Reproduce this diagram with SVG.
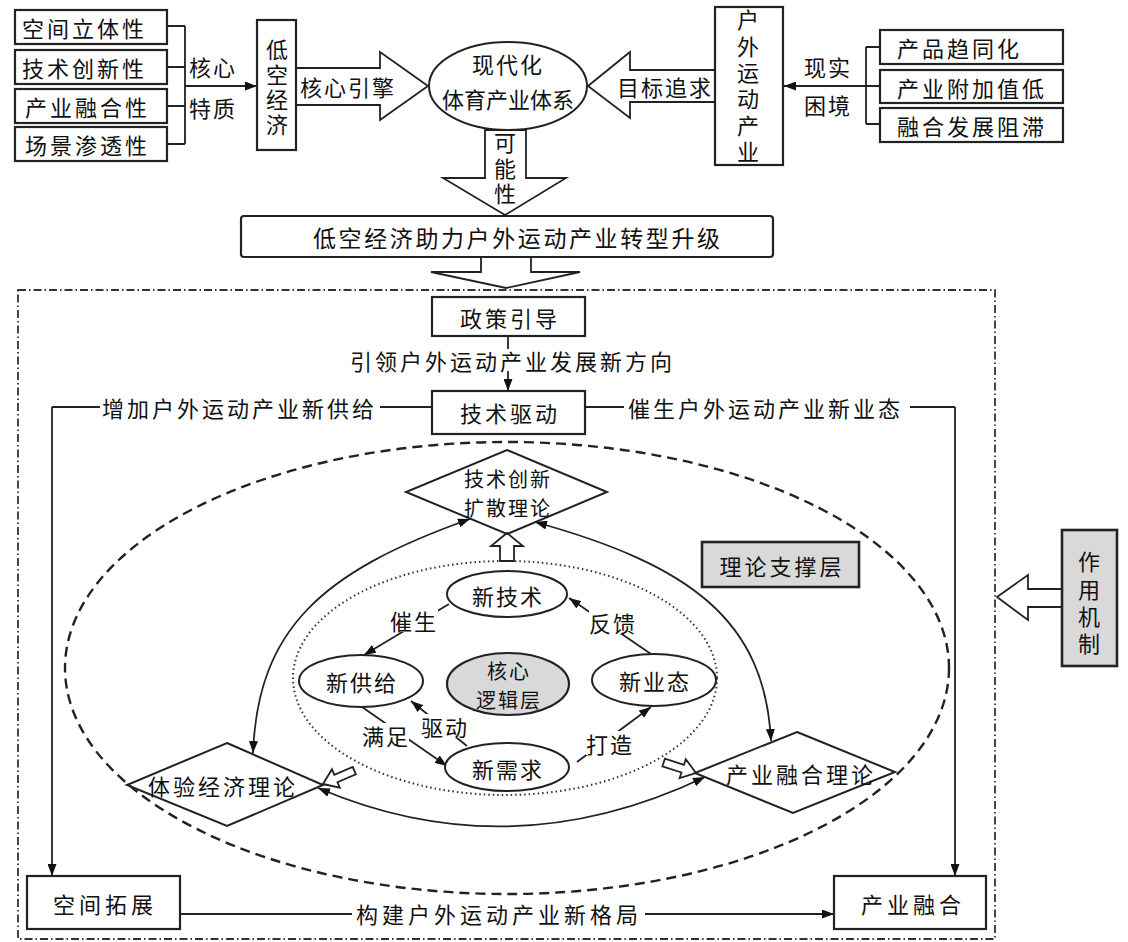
<svg xmlns="http://www.w3.org/2000/svg" width="1128" height="942" viewBox="0 0 1128 942">
<style>
text{font-family:"Noto Sans CJK SC","Noto Sans CJK JP",sans-serif;font-size:22px;fill:#111;dominant-baseline:central}
.c{text-anchor:middle}
.v{writing-mode:vertical-rl;text-orientation:upright;text-anchor:middle}
.l2{letter-spacing:2px}
.l3{letter-spacing:3px}
.l4{letter-spacing:4px}
.box{fill:#fff;stroke:#222;stroke-width:2.2}
.gray{fill:#d9d9d9;stroke:#222;stroke-width:2.6}
.ln{fill:none;stroke:#222;stroke-width:1.8}
.hol{fill:#fff;stroke:#222;stroke-width:1.8;stroke-linejoin:miter}
.ell{fill:#fff;stroke:#222;stroke-width:2}
.bg{fill:#fff;stroke:none}
</style>
<defs>
<marker id="ah" viewBox="0 0 12 9" refX="12" refY="4.5" markerWidth="12" markerHeight="9" markerUnits="userSpaceOnUse" orient="auto-start-reverse">
<path d="M0,0 L12,4.5 L0,9 z" fill="#111"/>
</marker>
</defs>
<rect width="1128" height="942" fill="#fff"/>

<!-- background frames -->
<g id="frames">
<rect x="18" y="290" width="977" height="649" fill="none" stroke="#333" stroke-width="1.8" stroke-dasharray="8 3 1.5 3"/>
<ellipse cx="507" cy="668" rx="442" ry="226" fill="none" stroke="#222" stroke-width="2.4" stroke-dasharray="10 6"/>
<ellipse cx="505" cy="678" rx="212" ry="117" fill="none" stroke="#333" stroke-width="2" stroke-dasharray="1.5 3"/>
</g>

<!-- connectors -->
<g id="connectors">
<path class="ln" d="M167,26 H185 M167,67 H185 M167,106 H185 M167,144 H185 M185,26 V144"/>
<path class="ln" d="M185,86 H257" marker-end="url(#ah)"/>
<path class="ln" d="M1063,47 H866 M880,124 H866 M866,47 V124"/>
<path class="ln" d="M880,86 H784" marker-end="url(#ah)"/>
<path class="ln" d="M508,336 V349"/>
<path class="ln" d="M508,371 V391" marker-end="url(#ah)"/>
<path class="ln" d="M432,407 H380 M100,407 H52"/>
<path class="ln" d="M52,407 V876" marker-end="url(#ah)"/>
<path class="ln" d="M585,407 H624 M910,407 H955"/>
<path class="ln" d="M955,407 V876" marker-end="url(#ah)"/>
<path class="ln" d="M180,914 H352"/>
<path class="ln" d="M645,914 H834" marker-end="url(#ah)"/>
<path class="ln" d="M470,519 C320,572 258,630 253,753" marker-start="url(#ah)" marker-end="url(#ah)"/>
<path class="ln" d="M535,522 C690,565 765,620 771,741" marker-start="url(#ah)" marker-end="url(#ah)"/>
<path class="ln" d="M318,788 Q510,870 705,777" marker-start="url(#ah)" marker-end="url(#ah)"/>
<path class="ln" d="M449,604 L364,655" marker-end="url(#ah)"/>
<path class="ln" d="M651,654 L569,598" marker-end="url(#ah)"/>
<path class="ln" d="M467,746 L411,701" marker-end="url(#ah)"/>
<path class="ln" d="M362,707 L447,766" marker-end="url(#ah)"/>
<path class="ln" d="M577,762 L651,707" marker-end="url(#ah)"/>
<polygon class="hol" points="296,68 380,68 380,52 428,86 380,120 380,105 296,105"/>
<text x="300" y="86" class="l2">核心引擎</text>
<polygon class="hol" points="588,86 630,52 630,70 715,70 715,102 630,102 630,118"/>
<text x="617" y="86" class="l2">目标追求</text>
<polygon class="hol" points="485,130 526,130 526,178 566,178 505,215 443,178 485,178"/>
<text x="505" y="170" class="v" style="letter-spacing:3.5px">可能性</text>
<polygon class="hol" points="481,257 531,257 531,272 580,272 506,288 431,272 481,272"/>
<polygon class="hol" points="507,533 523,546 514,546 514,561 500,561 500,546 491,546"/>
<polygon class="hol" points="0,0 -14,-10 -14,-4 -34,-4 -34,4 -14,4 -14,10" transform="translate(323,784) rotate(157)"/>
<polygon class="hol" points="0,0 -14,-10 -14,-4 -34,-4 -34,4 -14,4 -14,10" transform="translate(696,773) rotate(18)"/>
<polygon class="hol" points="997,597 1028,575 1028,589 1062,589 1062,607 1028,607 1028,620"/>
<text x="213" y="66" class="c l2">核心</text>
<text x="213" y="107" class="c l2">特质</text>
<text x="828" y="66" class="c l2">现实</text>
<text x="828" y="104" class="c l2">困境</text>
<text x="350" y="360" class="l3">引领户外运动产业发展新方向</text>
<text x="102" y="407" class="l3">增加户外运动产业新供给</text>
<text x="628" y="407" class="l3">催生户外运动产业新业态</text>
<text x="356" y="913" class="l4">构建户外运动产业新格局</text>
<rect class="bg" x="390" y="608" width="48" height="24"/>
<text x="414" y="620" class="c l2">催生</text>
<rect class="bg" x="589" y="610" width="48" height="24"/>
<text x="613" y="622" class="c l2">反馈</text>
<rect class="bg" x="421" y="714" width="48" height="24"/>
<text x="445" y="726" class="c l2">驱动</text>
<rect class="bg" x="363" y="723" width="46" height="24"/>
<text x="386" y="735" class="c l2">满足</text>
<rect class="bg" x="586" y="731" width="48" height="24"/>
<text x="610" y="743" class="c l2">打造</text>
</g>

<!-- nodes -->
<g id="n-kongjian"><rect class="box" x="15" y="10" width="152" height="34"/><text x="22" y="27" class="l3">空间立体性</text></g>
<g id="n-jishu"><rect class="box" x="15" y="50" width="152" height="34"/><text x="22" y="67" class="l3">技术创新性</text></g>
<g id="n-chanye"><rect class="box" x="15" y="89" width="152" height="34"/><text x="25" y="106" class="l3">产业融合性</text></g>
<g id="n-changjing"><rect class="box" x="15" y="127" width="152" height="34"/><text x="25" y="144" class="l3">场景渗透性</text></g>
<g id="n-dikong"><rect class="box" x="257" y="20" width="39" height="130"/>
<text x="277" y="88.5" class="v" style="letter-spacing:3px">低空经济</text></g>
<g id="n-xiandaihua"><ellipse class="ell" cx="508" cy="86" rx="79" ry="44"/>
<text x="508" y="63" class="c l2">现代化</text><text x="508" y="98" class="c">体育产业体系</text></g>
<g id="n-huwai"><rect class="box" x="715" y="7" width="68" height="158"/>
<text x="748" y="88" class="v" style="letter-spacing:4.4px">户外运动产业</text></g>
<g id="n-tongzhi"><rect class="box" x="880" y="30" width="183" height="34"/><text x="897" y="47" class="l3">产品趋同化</text></g>
<g id="n-fujia"><rect class="box" x="880" y="70" width="183" height="33"/><text x="897" y="87" class="l3">产业附加值低</text></g>
<g id="n-ronghe"><rect class="box" x="880" y="108" width="183" height="34"/><text x="897" y="125" class="l3">融合发展阻滞</text></g>
<g id="n-banner"><rect class="box" x="241" y="216" width="532" height="41" rx="3"/>
<text x="313" y="237" style="font-size:23px;letter-spacing:2.6px">低空经济助力户外运动产业转型升级</text></g>
<g id="n-zhengce"><rect class="box" x="432" y="297" width="153" height="39"/><text x="510" y="317" class="c l3">政策引导</text></g>
<g id="n-jishuqudong"><rect class="box" x="432" y="391" width="153" height="43"/><text x="510" y="412" class="c l3">技术驱动</text></g>
<g id="n-kongjiantuozhan"><rect class="box" x="27" y="876" width="153" height="53"/><text x="105" y="903" class="c l4">空间拓展</text></g>
<g id="n-chanyeronghe"><rect class="box" x="834" y="876" width="152" height="53"/><text x="913" y="903" class="c l4">产业融合</text></g>
<g id="n-lilun"><rect class="gray" x="702" y="542" width="157" height="45"/><text x="782" y="565" class="c l3">理论支撑层</text></g>
<g id="n-zuoyong"><rect class="gray" x="1062" y="530" width="55" height="136"/>
<text x="1089" y="605.5" class="v" style="letter-spacing:5.3px">作用机制</text></g>
<g id="n-kuosan"><polygon class="ell" points="507,450 607,492 507,534 406,492" style="fill:none"/>
<text class="c l2" style="font-size:20px"><tspan x="508" y="478">技术创新</tspan><tspan x="508" y="507">扩散理论</tspan></text></g>
<g id="n-tiyan"><polygon class="ell" points="227,743 323,785 227,826 127,785" style="fill:none"/>
<text x="223" y="785" class="c l3">体验经济理论</text></g>
<g id="n-ronghelilun"><polygon class="ell" points="797,732 895,772 793,813 695,773" style="fill:none"/>
<text x="801" y="773" class="c l3">产业融合理论</text></g>
<g id="n-xinjishu"><ellipse class="ell" cx="507" cy="594" rx="60" ry="23"/><text x="508" y="595" class="c l2">新技术</text></g>
<g id="n-xingongji"><ellipse class="ell" cx="361" cy="681" rx="62" ry="26"/><text x="362" y="681" class="c l2">新供给</text></g>
<g id="n-hexin"><ellipse class="gray" cx="508" cy="684" rx="61" ry="31" style="stroke-width:2.2"/>
<text class="c l2" style="font-size:20px"><tspan x="509" y="669.5">核心</tspan><tspan x="509" y="698.5">逻辑层</tspan></text></g>
<g id="n-xinyetai"><ellipse class="ell" cx="654" cy="680" rx="62" ry="26"/><text x="655" y="680" class="c l2">新业态</text></g>
<g id="n-xinxuqiu"><ellipse class="ell" cx="507" cy="767" rx="62" ry="24"/><text x="508" y="768" class="c l2">新需求</text></g>
</svg>
